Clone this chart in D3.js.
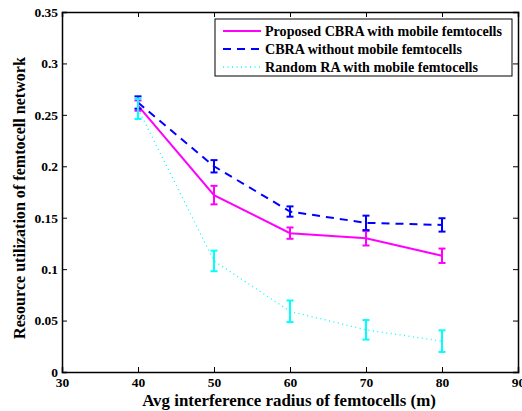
<!DOCTYPE html>
<html><head><meta charset="utf-8">
<script src="https://cdn.jsdelivr.net/npm/d3@7"></script>
<style>body{margin:0;background:#fff}svg{display:block}text{font-family:"Liberation Serif","Times New Roman",serif;font-weight:bold}</style>
</head><body>
<script>
const xValues = [40, 50, 60, 70, 80];
const seriesNames = ["Proposed CBRA with mobile femtocells", "CBRA without mobile femtocells", "Random RA with mobile femtocells"];
const proposed = [0.259, 0.172, 0.135, 0.130, 0.113];
const proposedErr = [0.005, 0.009, 0.0055, 0.007, 0.007];
const cbra = [0.262, 0.200, 0.156, 0.145, 0.143];
const cbraErr = [0.006, 0.006, 0.005, 0.007, 0.0065];
const random = [0.256, 0.108, 0.059, 0.041, 0.030];
const randomErr = [0.010, 0.010, 0.0105, 0.0095, 0.0105];
const xTicks = [30, 40, 50, 60, 70, 80, 90];
const yTicks = [0, 0.05, 0.1, 0.15, 0.2, 0.25, 0.3, 0.35];
const yTickLabels = ["0", "0.05", "0.1", "0.15", "0.2", "0.25", "0.3", "0.35"];

const W = 522, H = 411;
const m = {l: 62, r: 4, t: 12, b: 39};
const svg = d3.select("body").append("svg").attr("width", W).attr("height", H);
const x = d3.scaleLinear().domain([30, 90]).range([m.l, W - m.r]);
const y = d3.scaleLinear().domain([0, 0.35]).range([H - m.b, m.t]);

const series = [
  {name: seriesNames[0], v: proposed, e: proposedErr, color: "#ff00ff", dash: null, w: 2},
  {name: seriesNames[1], v: cbra, e: cbraErr, color: "#0000ff", dash: "8,6", w: 2},
  {name: seriesNames[2], v: random, e: randomErr, color: "#00ffff", dash: "1,3.5", w: 1.3}
];

// fit a text element to a target width by adjusting font size
function fit(sel, target) {
  const n = sel.node();
  const fs = parseFloat(sel.attr("font-size"));
  const w = n.getComputedTextLength();
  if (w > 0) sel.attr("font-size", (fs * target / w).toFixed(2));
}

const fmt = d => yTickLabels[yTicks.indexOf(d)];
const g = svg.append("g");
g.append("g").attr("transform", `translate(0,${y(0)})`)
  .call(d3.axisBottom(x).tickValues(xTicks).tickSize(-5).tickPadding(5).tickFormat(d3.format("d")));
g.append("g").attr("transform", `translate(0,${y(0.35)})`)
  .call(d3.axisTop(x).tickValues(xTicks).tickSize(-5).tickFormat(""));
g.append("g").attr("transform", `translate(${x(30)},0)`)
  .call(d3.axisLeft(y).tickValues(yTicks).tickSize(-5).tickPadding(4).tickFormat(fmt));
g.append("g").attr("transform", `translate(${x(90)},0)`)
  .call(d3.axisRight(y).tickValues(yTicks).tickSize(-5).tickFormat(""));
g.selectAll(".domain").attr("stroke", "#000").attr("stroke-width", 1.5);
g.selectAll(".tick line").attr("stroke", "#000").attr("stroke-width", 1);
g.selectAll(".tick text").attr("font-size", 13.5).attr("fill", "#000")
  .attr("font-family", "Liberation Serif, Times New Roman, serif").attr("font-weight", "bold");

const line = d3.line().x((d, i) => x(xValues[i])).y(d => y(d));
series.forEach(s => {
  svg.append("path").datum(s.v).attr("d", line).attr("fill", "none")
    .attr("stroke", s.color).attr("stroke-width", s.w).attr("stroke-dasharray", s.dash);
});
series.forEach(s => {
  const eg = svg.append("g").attr("stroke", s.color).attr("stroke-width", 2);
  s.v.forEach((v, i) => {
    const cx = x(xValues[i]);
    eg.append("line").attr("x1", cx).attr("x2", cx).attr("y1", y(v - s.e[i])).attr("y2", y(v + s.e[i]));
    eg.append("line").attr("x1", cx - 3.5).attr("x2", cx + 3.5).attr("y1", y(v - s.e[i])).attr("y2", y(v - s.e[i]));
    eg.append("line").attr("x1", cx - 3.5).attr("x2", cx + 3.5).attr("y1", y(v + s.e[i])).attr("y2", y(v + s.e[i]));
  });
});

const lg = svg.append("g");
lg.append("rect").attr("x", 215).attr("y", 19).attr("width", 297).attr("height", 57)
  .attr("fill", "#fff").attr("stroke", "#000").attr("stroke-width", 1);
const legendTextW = [237, 196, 212];
series.forEach((s, i) => {
  const ly = 31 + i * 18;
  lg.append("line").attr("x1", 223).attr("x2", 261).attr("y1", ly).attr("y2", ly)
    .attr("stroke", s.color).attr("stroke-width", s.w).attr("stroke-dasharray", s.dash);
  const t = lg.append("text").attr("x", 265).attr("y", ly + 5).attr("font-size", 14).text(s.name);
  if (i === 0) fit(t, legendTextW[0]);
});
// use the same font size for all legend entries
const lfs = lg.select("text").attr("font-size");
lg.selectAll("text").attr("font-size", lfs);

const xt = svg.append("text").attr("x", (x(30) + x(90)) / 2 - 1).attr("y", 406).attr("text-anchor", "middle")
  .attr("font-size", 16.5).text("Avg interference radius of femtocells (m)");
fit(xt, 294);
const yt = svg.append("text").attr("transform", `translate(25,${(y(0) + y(0.35)) / 2 + 6}) rotate(-90)`)
  .attr("text-anchor", "middle").attr("font-size", 16.5).text("Resource utilization of femtocell network");
fit(yt, 282);
</script>
</body></html>
